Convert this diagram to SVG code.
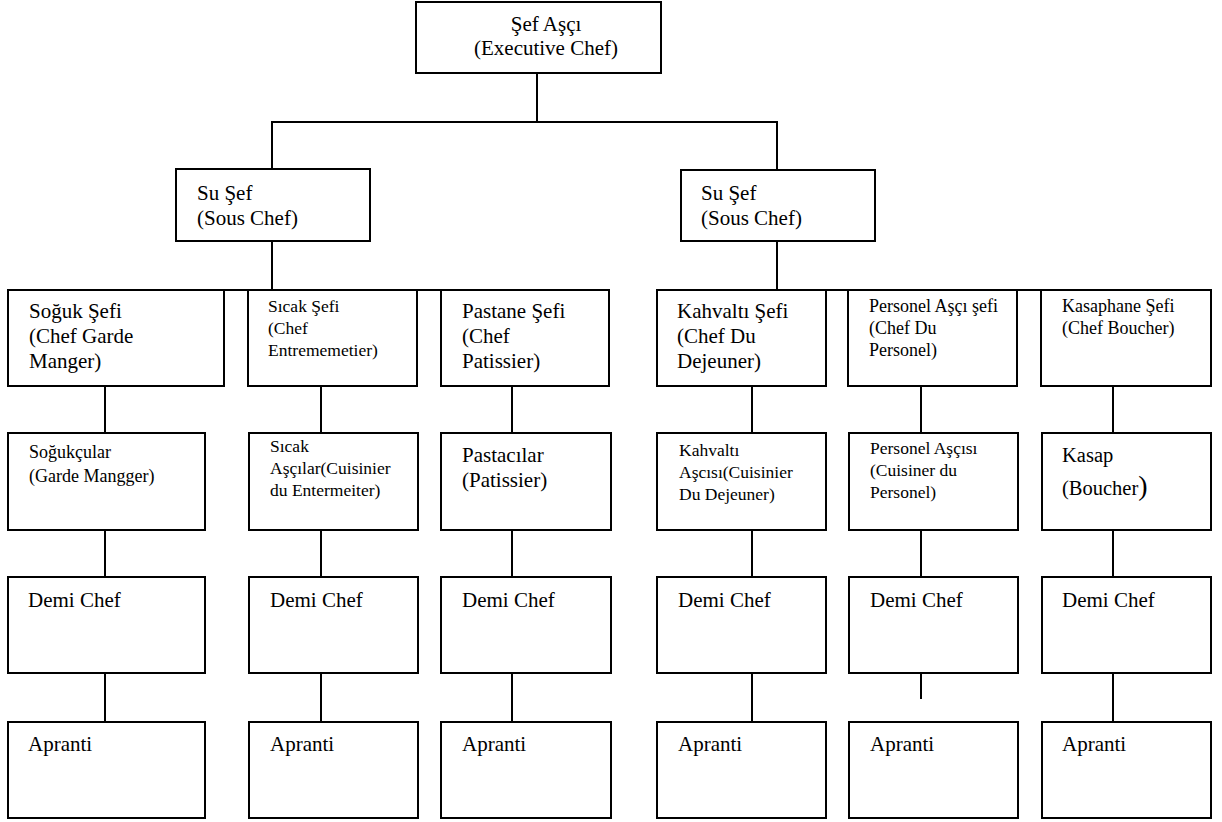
<svg xmlns="http://www.w3.org/2000/svg" width="1222" height="822" viewBox="0 0 1222 822">
<style>
rect.b{fill:#fff;stroke:#000;stroke-width:2}
line{stroke:#000;stroke-width:2}
text{font-family:"Liberation Serif","Times New Roman",serif;fill:#000}
.f21{font-size:21px}
.f20{font-size:20.5px}
.f18{font-size:18px}
.f17{font-size:17.5px}
</style>
<rect width="1222" height="822" fill="#fff"/>
<g id="connectors">
<line x1="537" y1="73" x2="537" y2="122"/>
<line x1="271" y1="122" x2="778" y2="122"/>
<line x1="272" y1="122" x2="272" y2="169"/>
<line x1="777" y1="122" x2="777" y2="170"/>
<line x1="272" y1="241" x2="272" y2="290"/>
<line x1="777" y1="241" x2="777" y2="290"/>
<line x1="8" y1="290" x2="610" y2="290"/>
<line x1="657" y1="290" x2="1212" y2="290"/>
<line x1="105" y1="386" x2="105" y2="433"/>
<line x1="321" y1="386" x2="321" y2="433"/>
<line x1="512" y1="386" x2="512" y2="433"/>
<line x1="752" y1="386" x2="752" y2="433"/>
<line x1="921" y1="386" x2="921" y2="433"/>
<line x1="1113" y1="386" x2="1113" y2="433"/>
<line x1="105" y1="530" x2="105" y2="577"/>
<line x1="321" y1="530" x2="321" y2="577"/>
<line x1="512" y1="530" x2="512" y2="577"/>
<line x1="752" y1="530" x2="752" y2="577"/>
<line x1="921" y1="530" x2="921" y2="577"/>
<line x1="1113" y1="530" x2="1113" y2="577"/>
<line x1="105" y1="673" x2="105" y2="722"/>
<line x1="321" y1="673" x2="321" y2="722"/>
<line x1="512" y1="673" x2="512" y2="722"/>
<line x1="752" y1="673" x2="752" y2="722"/>
<line x1="921" y1="673" x2="921" y2="699"/>
<line x1="1113" y1="673" x2="1113" y2="722"/>
</g>
<g id="exec">
<rect class="b" x="416" y="2" width="245" height="71"/>
<text class="f21" x="546" y="31" text-anchor="middle">Şef Aşçı</text>
<text class="f21" x="546" y="55" text-anchor="middle">(Executive Chef)</text>
</g>
<g id="sous1">
<rect class="b" x="176" y="169" width="194" height="72"/>
<text class="f21" x="197" y="200">Su Şef</text>
<text class="f21" x="197" y="225">(Sous Chef)</text>
</g>
<g id="sous2">
<rect class="b" x="681" y="170" width="194" height="71"/>
<text class="f21" x="701" y="200">Su Şef</text>
<text class="f21" x="701" y="225">(Sous Chef)</text>
</g>
<g id="l3-1">
<rect class="b" x="8" y="290" width="216" height="96"/>
<text class="f21" x="29" y="318">Soğuk Şefi</text>
<text class="f21" x="29" y="343">(Chef Garde</text>
<text class="f21" x="29" y="368">Manger)</text>
</g>
<g id="l3-2">
<rect class="b" x="248" y="290" width="169" height="96"/>
<text class="f17" x="268" y="312">Sıcak Şefi</text>
<text class="f17" x="268" y="334">(Chef</text>
<text class="f17" x="268" y="356">Entrememetier)</text>
</g>
<g id="l3-3">
<rect class="b" x="441" y="290" width="168" height="96"/>
<text class="f21" x="462" y="318">Pastane Şefi</text>
<text class="f21" x="462" y="343">(Chef</text>
<text class="f21" x="462" y="368">Patissier)</text>
</g>
<g id="l3-4">
<rect class="b" x="657" y="290" width="169" height="96"/>
<text class="f21" x="677" y="318">Kahvaltı Şefi</text>
<text class="f21" x="677" y="343">(Chef Du</text>
<text class="f21" x="677" y="368">Dejeuner)</text>
</g>
<g id="l3-5">
<rect class="b" x="848" y="290" width="169" height="96"/>
<text class="f18" x="869" y="312">Personel Aşçı şefi</text>
<text class="f18" x="869" y="334">(Chef Du</text>
<text class="f18" x="869" y="356">Personel)</text>
</g>
<g id="l3-6">
<rect class="b" x="1041" y="290" width="170" height="96"/>
<text class="f18" x="1062" y="312">Kasaphane Şefi</text>
<text class="f18" x="1062" y="334">(Chef Boucher)</text>
</g>
<g id="l4-1">
<rect class="b" x="8" y="433" width="197" height="97"/>
<text class="f18" x="29" y="458">Soğukçular</text>
<text class="f18" x="29" y="482">(Garde Mangger)</text>
</g>
<g id="l4-2">
<rect class="b" x="249" y="433" width="169" height="97"/>
<text class="f17" x="270" y="452">Sıcak</text>
<text class="f17" x="270" y="474">Aşçılar(Cuisinier</text>
<text class="f17" x="270" y="496">du  Entermeiter)</text>
</g>
<g id="l4-3">
<rect class="b" x="441" y="433" width="170" height="97"/>
<text class="f21" x="462" y="462">Pastacılar</text>
<text class="f21" x="462" y="487">(Patissier)</text>
</g>
<g id="l4-4">
<rect class="b" x="657" y="433" width="169" height="97"/>
<text class="f17" x="679" y="456">Kahvaltı</text>
<text class="f17" x="679" y="478">Aşcısı(Cuisinier</text>
<text class="f17" x="679" y="500">Du Dejeuner)</text>
</g>
<g id="l4-5">
<rect class="b" x="849" y="433" width="169" height="97"/>
<text class="f17" x="870" y="454">Personel Aşçısı</text>
<text class="f17" x="870" y="476">(Cuisiner du</text>
<text class="f17" x="870" y="498">Personel)</text>
</g>
<g id="l4-6">
<rect class="b" x="1042" y="433" width="169" height="97"/>
<text class="f20" x="1062" y="462">Kasap</text>
<text class="f20" x="1062" y="495">(Boucher<tspan font-size="28px">)</tspan></text>
</g>
<g id="l5-1"><rect class="b" x="8" y="577" width="197" height="96"/><text class="f21" x="28" y="607">Demi Chef</text></g>
<g id="l5-2"><rect class="b" x="249" y="577" width="169" height="96"/><text class="f21" x="270" y="607">Demi Chef</text></g>
<g id="l5-3"><rect class="b" x="441" y="577" width="170" height="96"/><text class="f21" x="462" y="607">Demi Chef</text></g>
<g id="l5-4"><rect class="b" x="657" y="577" width="169" height="96"/><text class="f21" x="678" y="607">Demi Chef</text></g>
<g id="l5-5"><rect class="b" x="849" y="577" width="169" height="96"/><text class="f21" x="870" y="607">Demi Chef</text></g>
<g id="l5-6"><rect class="b" x="1042" y="577" width="169" height="96"/><text class="f21" x="1062" y="607">Demi Chef</text></g>
<g id="l6-1"><rect class="b" x="8" y="722" width="197" height="96"/><text class="f21" x="28" y="751">Apranti</text></g>
<g id="l6-2"><rect class="b" x="249" y="722" width="169" height="96"/><text class="f21" x="270" y="751">Apranti</text></g>
<g id="l6-3"><rect class="b" x="441" y="722" width="170" height="96"/><text class="f21" x="462" y="751">Apranti</text></g>
<g id="l6-4"><rect class="b" x="657" y="722" width="169" height="96"/><text class="f21" x="678" y="751">Apranti</text></g>
<g id="l6-5"><rect class="b" x="849" y="722" width="169" height="96"/><text class="f21" x="870" y="751">Apranti</text></g>
<g id="l6-6"><rect class="b" x="1042" y="722" width="169" height="96"/><text class="f21" x="1062" y="751">Apranti</text></g>
</svg>
